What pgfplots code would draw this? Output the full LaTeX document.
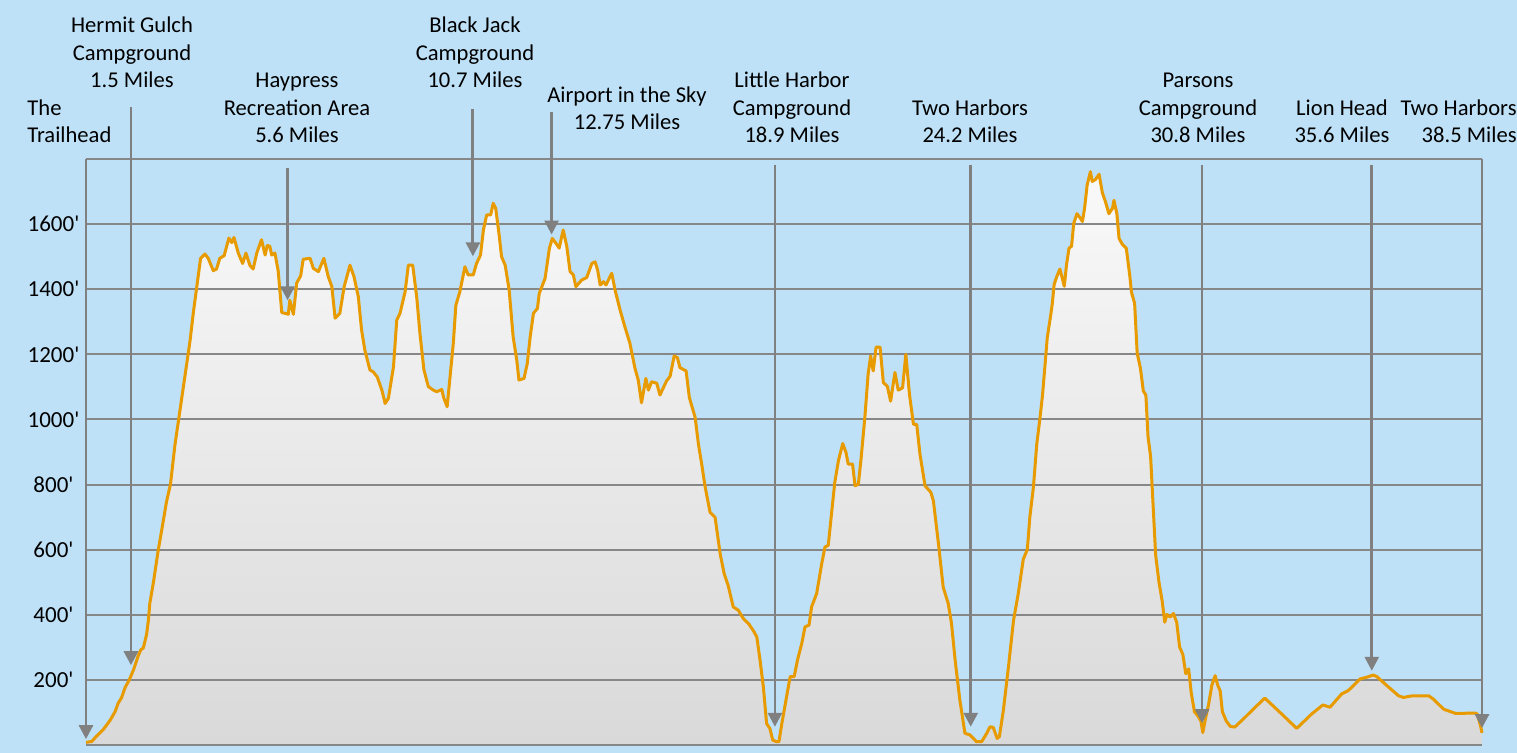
\documentclass[border=0pt]{standalone}
\usepackage{fontspec}
\setmainfont{Carlito}
\usepackage{pgfplots}
\usepackage{pgfplotstable}
\pgfplotsset{compat=1.18}
\usetikzlibrary{arrows.meta}
\definecolor{bg}{RGB}{190,225,247}
\definecolor{gridc}{RGB}{135,135,135}
\definecolor{arrowc}{RGB}{128,128,128}
\definecolor{lineor}{RGB}{232,155,0}
\definecolor{filltop}{RGB}{249,249,249}
\definecolor{fillbot}{RGB}{217,217,217}

\pgfplotstableread{
x y
0.00 8
0.16 11
0.29 27
0.48 48
0.66 75
0.80 102
0.89 129
0.98 145
1.08 177
1.19 199
1.31 231
1.44 274
1.51 292
1.58 298
1.67 339
1.72 382
1.76 435
1.86 500
1.99 597
2.09 661
2.22 747
2.33 801
2.45 919
2.59 1027
2.73 1134
2.87 1242
2.96 1328
3.05 1403
3.16 1495
3.28 1508
3.37 1495
3.51 1457
3.60 1462
3.69 1495
3.81 1503
3.88 1532
3.94 1557
4.02 1543
4.08 1559
4.20 1511
4.32 1479
4.41 1511
4.52 1473
4.61 1462
4.71 1511
4.84 1552
4.94 1505
5.00 1534
5.07 1532
5.12 1505
5.21 1511
5.30 1457
5.40 1328
5.49 1326
5.58 1323
5.62 1366
5.72 1323
5.81 1419
5.92 1441
5.99 1492
6.18 1495
6.27 1464
6.41 1454
6.56 1495
6.68 1439
6.78 1408
6.87 1311
7.00 1326
7.12 1408
7.28 1474
7.39 1439
7.51 1377
7.60 1275
7.69 1213
7.83 1152
7.92 1146
8.03 1131
8.16 1090
8.25 1049
8.34 1065
8.48 1162
8.57 1305
8.66 1326
8.80 1392
8.89 1474
9.01 1474
9.12 1377
9.21 1264
9.32 1152
9.44 1101
9.58 1090
9.67 1085
9.81 1092
9.87 1065
9.96 1039
10.04 1131
10.13 1234
10.20 1351
10.31 1392
10.45 1469
10.54 1444
10.68 1444
10.77 1479
10.88 1505
10.96 1582
11.05 1628
11.16 1628
11.23 1664
11.30 1648
11.40 1561
11.46 1500
11.56 1474
11.67 1398
11.78 1254
11.88 1182
11.94 1121
12.08 1126
12.17 1172
12.25 1254
12.34 1326
12.45 1341
12.50 1387
12.66 1433
12.78 1526
12.86 1556
12.96 1541
13.05 1526
13.16 1582
13.26 1531
13.35 1454
13.44 1444
13.51 1408
13.67 1428
13.81 1436
13.95 1479
14.04 1484
14.11 1459
14.18 1413
14.27 1423
14.34 1413
14.50 1449
14.59 1398
14.73 1336
14.86 1285
15.00 1234
15.14 1157
15.23 1121
15.32 1051
15.44 1126
15.51 1090
15.60 1116
15.74 1111
15.83 1075
15.90 1092
16.01 1118
16.11 1133
16.22 1195
16.31 1190
16.38 1159
16.55 1149
16.64 1067
16.80 1006
16.89 924
16.98 863
17.07 796
17.21 715
17.35 699
17.49 587
17.60 526
17.71 490
17.85 424
17.99 414
18.13 388
18.27 373
18.40 352
18.50 332
18.59 260
18.68 179
18.77 66
18.86 51
18.94 15
19.05 10
19.11 10
19.19 66
19.32 148
19.42 210
19.53 210
19.62 260
19.74 312
19.83 363
19.94 368
20.01 424
20.15 465
20.29 557
20.38 608
20.47 613
20.56 710
20.65 806
20.75 873
20.87 926
20.96 898
21.02 863
21.14 863
21.21 796
21.30 801
21.37 873
21.48 1006
21.57 1139
21.64 1195
21.71 1149
21.79 1222
21.90 1222
21.99 1113
22.10 1102
22.19 1056
22.31 1144
22.40 1090
22.52 1097
22.61 1200
22.71 1077
22.82 985
22.91 985
23.00 893
23.14 796
23.30 776
23.37 750
23.51 618
23.64 485
23.78 434
23.87 373
23.97 260
24.10 138
24.24 36
24.38 31
24.56 10
24.70 10
24.84 36
24.93 56
25.02 54
25.13 20
25.19 26
25.30 107
25.44 240
25.58 383
25.71 465
25.85 571
25.96 600
26.03 700
26.13 794
26.22 923
26.31 1005
26.38 1075
26.45 1169
26.51 1251
26.59 1309
26.65 1356
26.70 1415
26.77 1438
26.86 1462
26.98 1409
27.04 1474
27.11 1526
27.18 1532
27.24 1602
27.33 1632
27.41 1620
27.48 1608
27.54 1649
27.61 1720
27.70 1761
27.75 1731
27.84 1737
27.94 1753
28.03 1696
28.12 1667
28.21 1632
28.31 1649
28.35 1673
28.43 1632
28.49 1556
28.58 1538
28.69 1526
28.79 1438
28.83 1392
28.92 1356
28.99 1204
29.08 1157
29.16 1087
29.23 1075
29.29 946
29.36 887
29.43 735
29.50 583
29.59 501
29.68 442
29.75 377
29.81 401
29.90 393
29.99 404
30.08 377
30.16 301
30.25 278
30.33 219
30.41 234
30.48 161
30.57 102
30.66 90
30.75 73
30.80 38
30.87 79
30.96 125
31.05 184
31.14 213
31.21 184
31.28 166
31.34 102
31.45 73
31.56 57
31.68 55
31.92 80
32.19 110
32.51 144
32.93 100
33.39 51
33.80 95
34.11 123
34.31 116
34.63 157
34.81 167
35.14 203
35.32 208
35.50 215
35.60 210
35.88 182
36.20 151
36.33 146
36.57 151
37.03 151
37.16 141
37.44 110
37.77 97
38.32 98
38.37 95
38.46 59
38.50 37
}\elev

\begin{document}
\begin{tikzpicture}[font=\fontsize{11.3}{13.6}\selectfont]
\begin{axis}[
  at={(43pt,4pt)}, anchor=south west,
  scale only axis, width=698pt, height=293pt,
  xmin=0, xmax=38.5, ymin=0, ymax=1800,
  axis line style={draw=none},
  xtick=\empty,
  ytick={0,200,400,600,800,1000,1200,1400,1600,1800},
  yticklabels={{},200\textquotesingle,400\textquotesingle,600\textquotesingle,800\textquotesingle,1000\textquotesingle,1200\textquotesingle,1400\textquotesingle,1600\textquotesingle,{}},
  yticklabel style={anchor=center, xshift=-16.25pt, font=\fontsize{11.5}{13.6}\selectfont, text=black},
  major tick length=0pt,
  ymajorgrids,
  grid style={gridc, line width=1pt},
  clip=false,
  set layers,
]
\begin{pgfonlayer}{axis background}
\fill[bg] (rel axis cs:-0.061605,-0.013652) rectangle (rel axis cs:1.025072,1.271331);
\end{pgfonlayer}
\addplot[draw=none, top color=filltop, bottom color=fillbot, on layer=axis background] table {\elev} \closedcycle;
\addplot[lineor, line width=1.5pt, line join=round, mark=none] table {\elev};
\begin{scope}[arrowc, line width=1.4pt, -{Triangle[width=7pt,length=7pt]}]
\draw (axis cs:0,1800) -- (axis cs:0,18);
\draw (axis cs:1.24,1960) -- (axis cs:1.24,245);
\draw (axis cs:5.56,1773) -- (axis cs:5.56,1366);
\draw (axis cs:10.67,1954) -- (axis cs:10.67,1501);
\draw (axis cs:12.84,1945) -- (axis cs:12.84,1568);
\draw (axis cs:19.00,1783) -- (axis cs:19.00,56);
\draw (axis cs:24.40,1783) -- (axis cs:24.40,56);
\draw (axis cs:30.78,1783) -- (axis cs:30.78,67);
\draw (axis cs:35.46,1783) -- (axis cs:35.46,228);
\draw (axis cs:38.5,1801) -- (axis cs:38.5,52);
\end{scope}
\end{axis}
\begin{scope}[x=0.5pt, y=-0.5pt, shift={(0,376.5pt)}, every node/.style={inner sep=0pt, text=black}]
\node[anchor=base west] at (27,116) {The};
\node[anchor=base west] at (27,143) {Trailhead};
\node[anchor=base] at (132,33) {Hermit Gulch};
\node[anchor=base] at (132,61) {Campground};
\node[anchor=base] at (132,88) {1.5 Miles};
\node[anchor=base] at (297,88) {Haypress};
\node[anchor=base] at (297,116) {Recreation Area};
\node[anchor=base] at (297,143) {5.6 Miles};
\node[anchor=base] at (475,33) {Black Jack};
\node[anchor=base] at (475,61) {Campground};
\node[anchor=base] at (475,88) {10.7 Miles};
\node[anchor=base] at (627,103) {Airport in the Sky};
\node[anchor=base] at (627,130) {12.75 Miles};
\node[anchor=base] at (792,88) {Little Harbor};
\node[anchor=base] at (792,116) {Campground};
\node[anchor=base] at (792,143) {18.9 Miles};
\node[anchor=base] at (970,116) {Two Harbors};
\node[anchor=base] at (970,143) {24.2 Miles};
\node[anchor=base] at (1198,88) {Parsons};
\node[anchor=base] at (1198,116) {Campground};
\node[anchor=base] at (1198,143) {30.8 Miles};
\node[anchor=base] at (1342,116) {Lion Head};
\node[anchor=base] at (1342,143) {35.6 Miles};
\node[anchor=base east] at (1517,116) {Two Harbors};
\node[anchor=base east] at (1517,143) {38.5 Miles};
\end{scope}
\pgfresetboundingbox
\path[use as bounding box] (0,0) rectangle (758.5pt,376.5pt);
\end{tikzpicture}
\end{document}
